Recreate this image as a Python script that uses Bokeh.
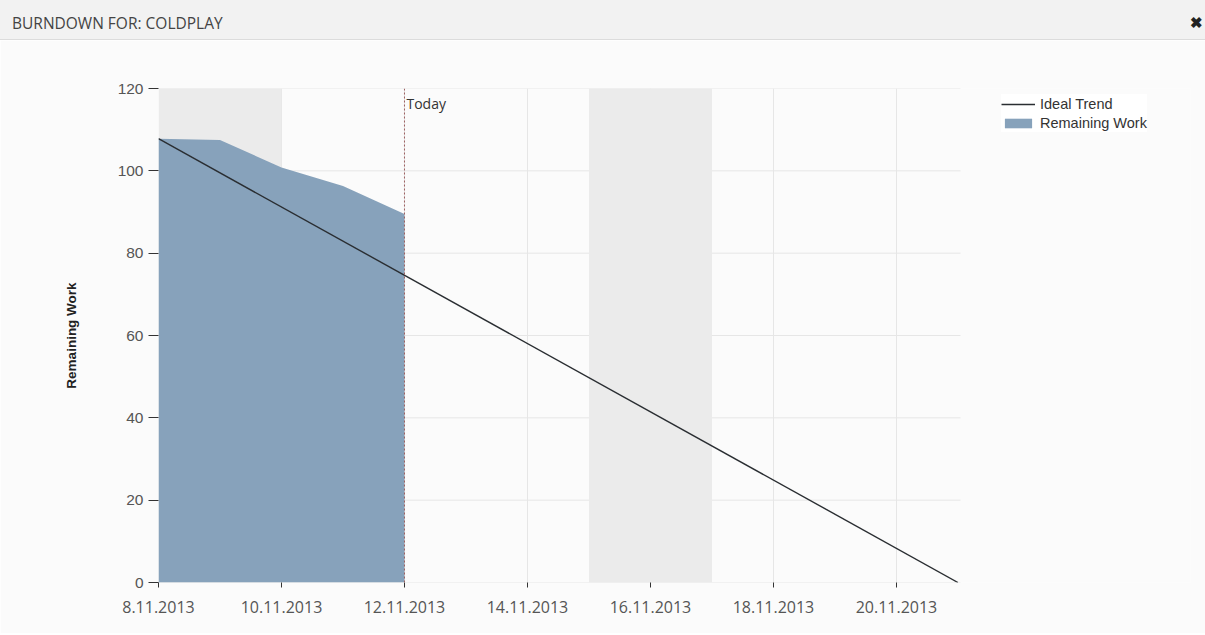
import pandas as pd
from bokeh.plotting import figure
from bokeh.models import (Div, Legend, LegendItem, Span, Label, BoxAnnotation,
                          FixedTicker, Range1d, ColumnDataSource)
from bokeh.layouts import column
from bokeh.embed import file_html
from bokeh.resources import INLINE

# ---------------- data ----------------
title_text = "BURNDOWN FOR: COLDPLAY"
remaining_dates = ["2013-11-08", "2013-11-09", "2013-11-10", "2013-11-11", "2013-11-12"]
remaining_work = [107.8, 107.5, 100.8, 96.3, 89.5]
ideal_dates = ["2013-11-08", "2013-11-21"]
ideal_trend = [107.8, 0]
weekend_starts = ["2013-11-08", "2013-11-15"]
weekend_ends = ["2013-11-10", "2013-11-17"]
today_date = "2013-11-12"
tick_dates = ["2013-11-08", "2013-11-10", "2013-11-12", "2013-11-14",
              "2013-11-16", "2013-11-18", "2013-11-20"]
tick_labels = ["8.11.2013", "10.11.2013", "12.11.2013", "14.11.2013",
               "16.11.2013", "18.11.2013", "20.11.2013"]
y_ticks = [0, 20, 40, 60, 80, 100, 120]
x_start = "2013-11-08 00:00"
x_chart_end = "2013-11-21 01:00"   # end of the gridded chart area


def ms(s):
    return float(pd.Timestamp(s).value // 10**6)


FRAME_W = 1032           # frame extends under the legend area
CHART_W = 802            # pixel width of the gridded area
x_end = ms(x_start) + (ms(x_chart_end) - ms(x_start)) * FRAME_W / CHART_W

# ---------------- header ----------------
header = Div(
    text=(
        '<div style="display:flex;justify-content:space-between;align-items:center;'
        'width:1205px;height:40px;box-sizing:border-box;padding:6px 0 0 12px;'
        'font-family:\'Open Sans\';font-size:15.5px;color:#444444;">'
        f'<span>{title_text}</span>'
        '<span style="font-weight:bold;font-size:15px;color:#222;margin-right:2px;">&#10006;</span></div>'
    ),
    width=1205, height=40, margin=0,
    styles={"background-color": "#f2f2f2", "border-bottom": "1px solid #dcdcdc",
            "box-sizing": "border-box"},
)

# ---------------- figure ----------------
p = figure(width=1205, height=593, output_backend="svg", toolbar_location=None,
           x_range=Range1d(ms(x_start), x_end), y_range=Range1d(0, 120),
           min_border_left=158, min_border_right=1205 - 158 - FRAME_W, min_border_top=48,
           min_border_bottom=51, margin=0)
p.background_fill_color = "#fbfbfb"
p.border_fill_color = "#fbfbfb"
p.outline_line_color = None

for s, e in zip(weekend_starts, weekend_ends):
    p.add_layout(BoxAnnotation(left=ms(s), right=ms(e), fill_color="#ebebeb",
                               fill_alpha=1.0, line_color=None, level="underlay"))

# horizontal grid lines limited to the chart area
gsrc = ColumnDataSource(dict(x0=[ms(x_start)] * len(y_ticks),
                             x1=[ms(x_chart_end)] * len(y_ticks), y=y_ticks))
p.segment(x0="x0", y0="y", x1="x1", y1="y", source=gsrc, line_color="#e6e6e6",
          line_width=1, level="underlay")

rsrc = ColumnDataSource(dict(x=[ms(d) for d in remaining_dates], y=remaining_work,
                             y0=[0] * len(remaining_work)))
area = p.varea(x="x", y1="y0", y2="y", source=rsrc, fill_color="#87a2bb", fill_alpha=1.0)

isrc = ColumnDataSource(dict(x=[ms(d) for d in ideal_dates], y=ideal_trend))
line = p.line(x="x", y="y", source=isrc, line_color="#2a2e32", line_width=1.4)

p.add_layout(Span(location=ms(today_date), dimension="height", line_color="#9c5f5f",
                  line_dash="2 2", line_width=1))
p.add_layout(Label(x=ms(today_date), y=120, text="Today", x_offset=2, y_offset=-5,
                   text_baseline="top", text_font="Open Sans", text_font_size="14px",
                   text_color="#333333"))

# axes
xa = p.xaxis[0]
xa.ticker = FixedTicker(ticks=[ms(d) for d in tick_dates])
xa.major_label_overrides = {ms(d): lab for d, lab in zip(tick_dates, tick_labels)}
xa.axis_line_color = None
xa.major_tick_out = 5
xa.major_tick_in = 0
xa.major_tick_line_color = "#333333"
xa.minor_tick_line_color = None
xa.major_label_text_font = "Open Sans"
xa.major_label_text_font_size = "16px"
xa.major_label_text_color = "#555555"
xa.major_label_standoff = 13

ya = p.yaxis[0]
ya.ticker = FixedTicker(ticks=y_ticks)
ya.axis_line_color = None
ya.major_tick_out = 10
ya.major_tick_in = 0
ya.major_tick_line_color = "#333333"
ya.minor_tick_line_color = None
ya.major_label_text_font = "Liberation Sans"
ya.major_label_text_font_size = "15.5px"
ya.major_label_text_color = "#555555"
ya.major_label_standoff = 5
ya.axis_label = "Remaining Work"
ya.axis_label_text_font = "Liberation Sans"
ya.axis_label_text_font_style = "bold"
ya.axis_label_text_font_size = "13.5px"
ya.axis_label_text_color = "#222222"
ya.axis_label_standoff = 36

p.xgrid.ticker = xa.ticker
p.xgrid.grid_line_color = "#e6e6e6"
p.ygrid.grid_line_color = None

legend = Legend(items=[LegendItem(label="Ideal Trend", renderers=[line]),
                       LegendItem(label="Remaining Work", renderers=[area])],
                location=(843, 450), orientation="vertical",
                background_fill_color="#ffffff", background_fill_alpha=1.0,
                border_line_color=None, padding=8, margin=0, spacing=0,
                label_height=19, glyph_height=12, glyph_width=34, label_standoff=5,
                label_text_font="Liberation Sans", label_text_font_size="14.5px",
                label_text_color="#333333")
p.add_layout(legend)

layout = column(header, p, spacing=0)
open("out.html", "w").write(file_html(layout, INLINE))
